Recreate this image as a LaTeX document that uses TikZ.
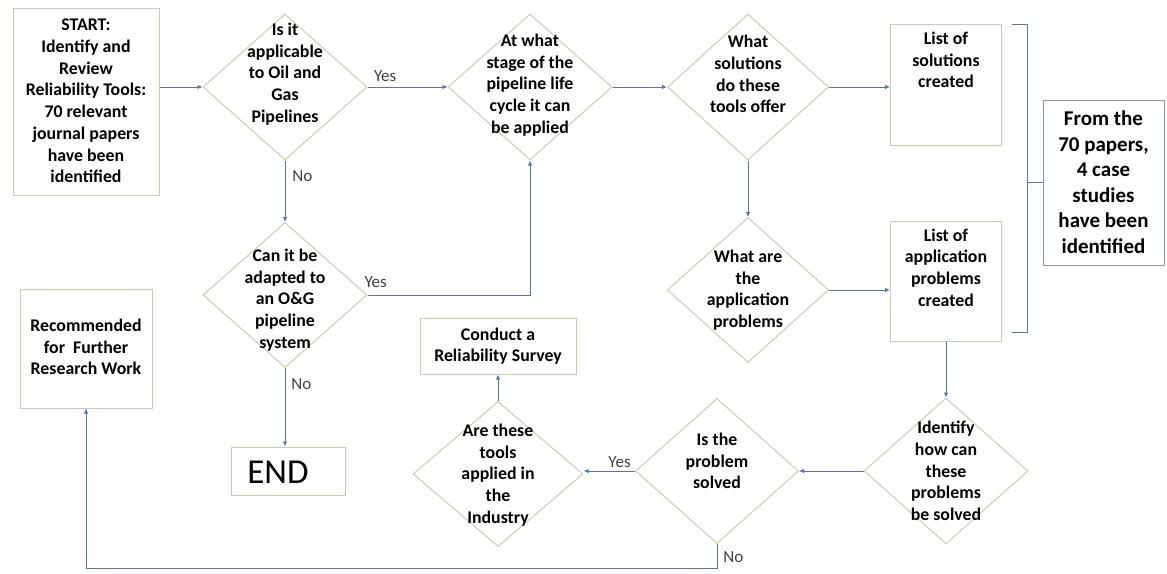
\documentclass[tikz,border=0pt]{standalone}
\usepackage{fontspec}
\setmainfont{Carlito}
\usetikzlibrary{shapes.geometric,arrows.meta}
\definecolor{arr}{HTML}{5B74B0}
\definecolor{shp}{HTML}{C3CFB2}
\definecolor{bluebox}{HTML}{8494BF}
\tikzset{
  dia/.style={draw=shp, line width=1pt, shape=diamond, minimum width=164pt, minimum height=146pt, inner sep=0pt},
  txt/.style={align=center, font=\bfseries\fontsize{17.8}{21.7}\selectfont, inner sep=0pt},
  bigtxt/.style={align=center, font=\bfseries\fontsize{21}{25.5}\selectfont, inner sep=0pt},
  boxs/.style={draw=shp, line width=1pt, inner sep=0pt},
  ar/.style={draw=arr, line width=0.8pt, -{Latex[length=5pt,width=4.5pt]}},
  ln/.style={draw=arr, line width=0.8pt},
  lbl/.style={font=\fontsize{17}{19}\selectfont, text=black!75, inner sep=0pt}
}
\begin{document}
\begin{tikzpicture}[x=1pt,y=-1pt]
\useasboundingbox (0,0) rectangle (1167,573);
% boxes
\node[boxs, minimum width=146pt, minimum height=187pt] (start) at (86,101.5) {};
\node[txt] (starttxt) at (86,101) {START:\\Identify and\\Review\\Reliability Tools:\\70 relevant\\journal papers\\have been\\identified};
\node[boxs, minimum width=111pt, minimum height=121pt] (sol) at (946,84.5) {};
\node[txt] (soltxt) at (946,60) {List of\\solutions\\created};
\node[boxs, minimum width=111pt, minimum height=120pt] (app) at (946,281) {};
\node[txt] (apptxt) at (946,267.5) {List of\\application\\problems\\created};
\node[draw=bluebox, line width=1pt, minimum width=121pt, minimum height=165pt, inner sep=0pt] (from) at (1103.5,182.5) {};
\node[bigtxt] (fromtxt) at (1103.5,182) {From the\\70 papers,\\4 case\\studies\\have been\\identified};
\node[boxs, minimum width=132pt, minimum height=119pt] (rec) at (86,348.5) {};
\node[txt] (rectxt) at (86,347) {Recommended\\for\ \ Further\\Research Work};
\node[boxs, minimum width=156pt, minimum height=56pt] (surv) at (498,346) {};
\node[txt] (survtxt) at (498,346) {Conduct a\\Reliability Survey};
\node[boxs, minimum width=114pt, minimum height=48pt] (end) at (288,471) {};
\node[font=\fontsize{35}{38}\selectfont, inner sep=0pt] (endtxt) at (278,472) {END};
% diamonds
\node[dia] (d1) at (285,87) {};
\node[txt] (d1t) at (285,74) {Is it\\applicable\\to Oil and\\Gas\\Pipelines};
\node[dia, minimum height=145pt] (d2) at (285,295) {};
\node[txt] (d2t) at (285,300) {Can it be\\adapted to\\an O\&G\\pipeline\\system};
\node[dia] (d3) at (530,87) {};
\node[txt] (d3t) at (530,85) {At what\\stage of the\\pipeline life\\cycle it can\\be applied};
\node[dia, minimum width=161pt] (d4) at (748,87) {};
\node[txt] (d4t) at (748,74) {What\\solutions\\do these\\tools offer};
\node[dia, minimum width=161pt, minimum height=145pt] (d5) at (748,290) {};
\node[txt] (d5t) at (748,290) {What are\\the\\application\\problems};
\node[dia] (d6) at (946,471) {};
\node[txt] (d6t) at (946,471) {Identify\\how can\\these\\problems\\be solved};
\node[dia, minimum width=163pt, minimum height=145pt] (d7) at (717,471) {};
\node[txt] (d7t) at (717,461) {Is the\\problem\\solved};
\node[dia, minimum width=170pt, minimum height=145pt] (d8) at (498,474) {};
\node[txt] (d8t) at (498,475) {Are these\\tools\\applied in\\the\\Industry};
% connectors
\draw[ar] (start.east |- d1.west) -- (d1.west);
\draw[ar] (d1.east) -- node[lbl, pos=0.22, above=5pt] (y1) {Yes} (d3.west);
\draw[ar] (d1.south) -- node[lbl, pos=0.25, right=7pt] (n1) {No} (d2.north);
\draw[ar] (d2.east) -- node[lbl, pos=0.05, above=7pt] (y2) {Yes} (d3.south |- d2.east) -- (d3.south);
\draw[ar] (d2.south) -- node[lbl, pos=0.2, right=6pt] (n2) {No} (d2.south |- end.north);
\draw[ar] (d3.east) -- (d4.west);
\draw[ar] (d4.east) -- (d4.east -| sol.west);
\draw[ar] (d4.south) -- (d5.north);
\draw[ar] (d5.east) -- (d5.east -| app.west);
\draw[ar] (app.south) -- (d6.north);
\draw[ar] (d6.west) -- (d7.east);
\draw[ar] (d7.west) -- node[lbl, pos=0.3, above=3pt] (y3) {Yes} (d7.west -| d8.east);
\draw[ar] (d8.north) -- (surv.south);
\coordinate (c1) at (717,568);
\draw[ar] (d7.south) -- node[lbl, pos=0.55, right=6pt] (n3) {No} (c1) -| (rec.south);
% bracket
\coordinate (b1) at (1012,24);
\coordinate (b2) at (1027,24);
\coordinate (b3) at (1027,332);
\coordinate (b4) at (1012,332);
\draw[ln] (b1) -- (b2) -- (b3) -- (b4);
\draw[ln] (b2 |- from.west) -- (from.west);
\end{tikzpicture}
\end{document}
